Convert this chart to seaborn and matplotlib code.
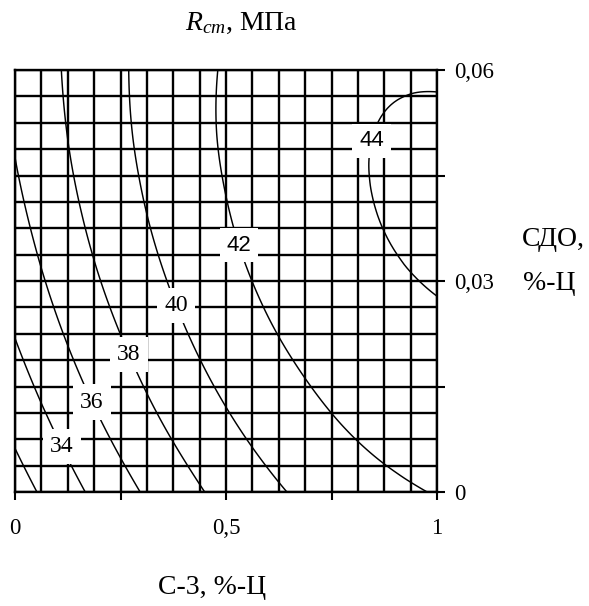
import numpy as np
import matplotlib
matplotlib.use('Agg')
import matplotlib.pyplot as plt
import matplotlib.tri as mtri
from matplotlib.ticker import MultipleLocator, FixedLocator, FixedFormatter
import seaborn as sns

# ---------------- data ----------------
c3_values = [0.0, 0.125, 0.25, 0.375, 0.5, 0.625, 0.75, 0.875, 1.0]          # С-3, %-Ц
sdo_values = [0.0, 0.0075, 0.015, 0.0225, 0.03, 0.0375, 0.045, 0.0525, 0.06]  # СДО, %-Ц
strength = [  # R_cm, МПа ; one row per СДО value
    [31.04, 33.30, 35.32, 37.07, 38.58, 39.83, 40.83, 41.58, 42.08],
    [32.19, 34.39, 36.35, 38.05, 39.50, 40.70, 41.65, 42.34, 42.78],
    [33.20, 35.35, 37.25, 38.90, 40.29, 41.43, 42.32, 42.96, 43.35],
    [34.07, 36.17, 38.01, 39.60, 40.94, 42.03, 42.86, 43.45, 43.78],
    [34.81, 36.85, 38.64, 40.17, 41.46, 42.49, 43.27, 43.80, 44.07],
    [35.40, 37.39, 39.13, 40.61, 41.84, 42.81, 43.54, 44.01, 44.23],
    [35.87, 37.80, 39.48, 40.91, 42.08, 43.00, 43.67, 44.09, 44.25],
    [36.20, 38.07, 39.70, 41.07, 42.19, 43.05, 43.66, 44.03, 44.13],
    [36.39, 38.21, 39.78, 41.09, 42.15, 42.97, 43.52, 43.83, 43.88],
]
levels = [32, 34, 36, 38, 40, 42, 44]
x_tick_values = [0, 0.25, 0.5, 0.75, 1]
x_tick_labels = ['0', '', '0,5', '', '1']
y_tick_values = [0, 0.015, 0.03, 0.045, 0.06]
y_tick_labels = ['0', '', '0,03', '', '0,06']

# ---------------- style ----------------
sns.set_theme(style='white')
plt.rcParams['font.family'] = ['Liberation Serif', 'DejaVu Serif']
plt.rcParams['text.color'] = 'black'
plt.rcParams['mathtext.fontset'] = 'custom'
plt.rcParams['mathtext.rm'] = 'Liberation Serif'
plt.rcParams['mathtext.it'] = 'Liberation Serif:italic'

W, H = 589, 606
fig = plt.figure(figsize=(W / 100, H / 100), dpi=100)
ax = fig.add_axes([15 / W, 1 - 492 / H, 422 / W, 422 / H])

# ---------------- contours (smoothed by matplotlib's cubic refiner) ----------------
xmax, ymax = max(c3_values), max(sdo_values)
GX, GY = np.meshgrid(np.asarray(c3_values), np.asarray(sdo_values))
Z = np.asarray(strength, dtype=float)
tri_n = mtri.Triangulation(GX.ravel() / xmax, GY.ravel() / ymax)
refiner = mtri.UniformTriRefiner(tri_n)
tri_r, z_r = refiner.refine_field(Z.ravel(), subdiv=4)
tri_plot = mtri.Triangulation(tri_r.x * xmax, tri_r.y * ymax, tri_r.triangles)

cs = ax.tricontour(tri_plot, z_r, levels=levels, colors='black', linewidths=1.05, zorder=3)

# label anchor points (layout only)
label_pos = [(0.106, 0.0063), (0.19, 0.0130), (0.275, 0.0197),
             (0.388, 0.0266), (0.527, 0.0350), (0.84, 0.0500)]
ax.clabel(cs, manual=label_pos, inline=False, fmt='%d', fontsize=17)
for t in cs.labelTexts:
    t.set_rotation(0)
    t.set_zorder(6)
    t.set_color('black')
    t.set_bbox(dict(boxstyle='square,pad=0.3', facecolor='white', edgecolor='none'))
    if t.get_text() in ('42', '44'):
        t.set_fontfamily(['Liberation Sans', 'DejaVu Sans'])
        t.set_fontsize(16)

# ---------------- axes, grid, ticks ----------------
ax.set_xlim(0, 1)
ax.set_ylim(0, 0.06)
ax.xaxis.set_major_locator(FixedLocator(x_tick_values))
ax.xaxis.set_major_formatter(FixedFormatter(x_tick_labels))
ax.yaxis.set_major_locator(FixedLocator(y_tick_values))
ax.yaxis.set_major_formatter(FixedFormatter(y_tick_labels))
ax.xaxis.set_minor_locator(MultipleLocator(1 / 16))
ax.yaxis.set_minor_locator(MultipleLocator(0.06 / 16))
ax.set_axisbelow(True)
ax.grid(which='both', color='black', linewidth=1.7)

ax.yaxis.tick_right()
ax.tick_params(axis='x', which='major', direction='out', length=6, width=1.5,
               color='black', bottom=True, top=False, labelsize=16.5, pad=13, labelcolor='black')
ax.tick_params(axis='y', which='major', direction='out', length=6, width=1.5,
               color='black', right=True, left=False, labelright=True, labelleft=False,
               labelsize=16.5, pad=6, labelcolor='black')
ax.tick_params(which='minor', length=0)
for s in ax.spines.values():
    s.set_color('black')
    s.set_linewidth(1.7)

# ---------------- axis titles ----------------
fig.text(241 / W, 1 - 30 / H, r'$R_{cm}$, МПа', ha='center', va='baseline', fontsize=20, color='black')
fig.text(522 / W, 1 - 240 / H, 'СДО,', ha='left', va='center', fontsize=20, color='black')
fig.text(523 / W, 1 - 283 / H, '%-Ц', ha='left', va='center', fontsize=20, color='black')
fig.text(212 / W, 1 - 588 / H, 'С-3, %-Ц', ha='center', va='center', fontsize=20, color='black')

fig.savefig('out.png', dpi=100)
